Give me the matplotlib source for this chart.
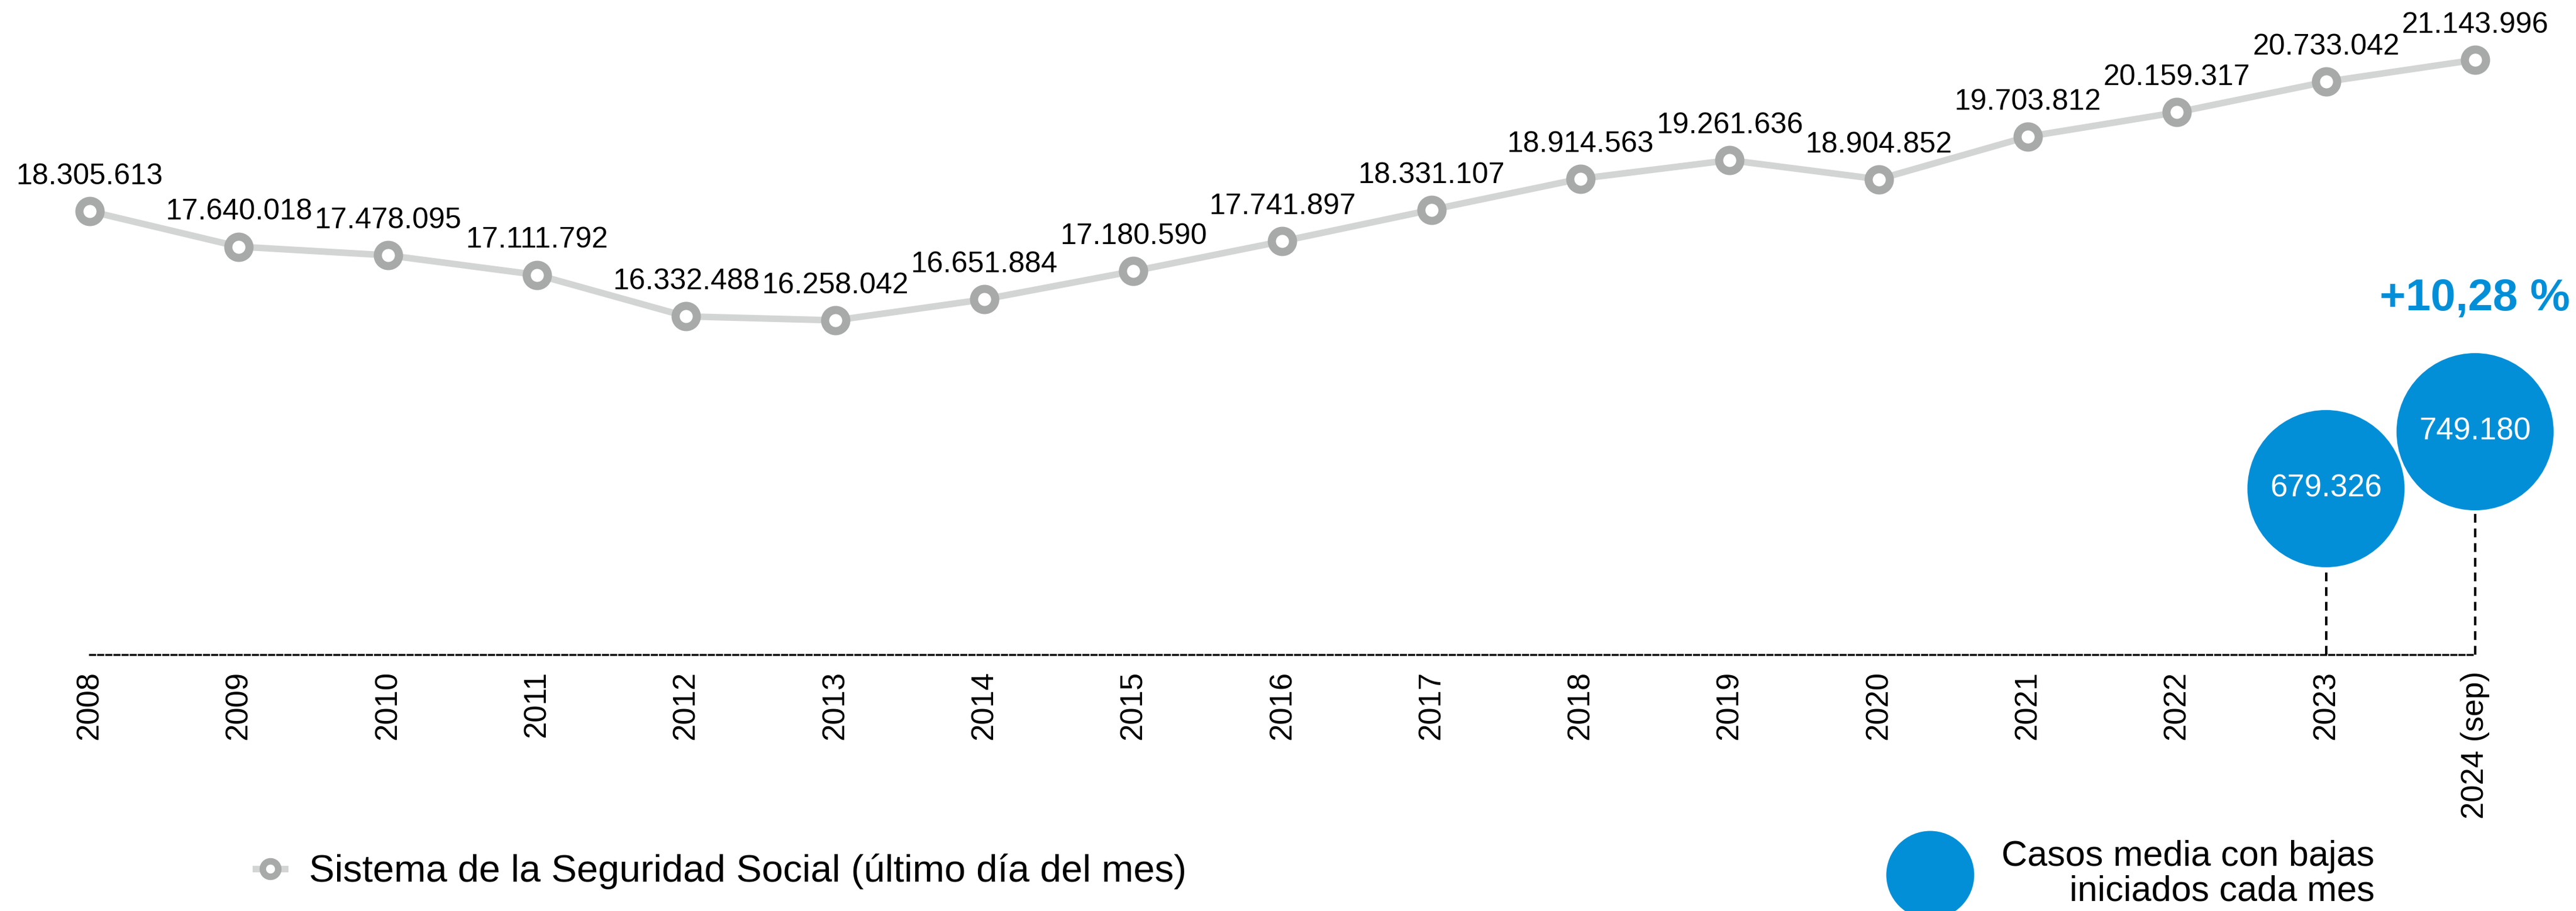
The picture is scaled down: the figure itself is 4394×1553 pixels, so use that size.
import numpy as np
import matplotlib
matplotlib.use('Agg')
import matplotlib.pyplot as plt
from matplotlib.lines import Line2D

plt.rcParams['font.family'] = ['Liberation Sans', 'DejaVu Sans']

# datos
anios = ['2008', '2009', '2010', '2011', '2012', '2013', '2014', '2015', '2016',
         '2017', '2018', '2019', '2020', '2021', '2022', '2023', '2024 (sep)']
afiliados = [18305613, 17640018, 17478095, 17111792, 16332488, 16258042, 16651884,
             17180590, 17741897, 18331107, 18914563, 19261636, 18904852, 19703812,
             20159317, 20733042, 21143996]
bajas_pos = [15, 16]  # 2023 y 2024 (sep)
bajas = [679326, 749180]
variacion = '+10,28 %'

gris_linea = '#d3d4d4'
gris_marca = '#a8a9a9'
azul = '#038fd8'


def fmt(v):
    return f'{v:,}'.replace(',', '.')


fig = plt.figure(figsize=(43.94, 15.53), dpi=100)
ax = fig.add_axes([0, 0.2814, 1, 0.7186])
x = np.arange(len(anios))

ax.plot(x, afiliados, color=gris_linea, lw=8, solid_capstyle='round', zorder=2)
ax.plot(x, afiliados, ls='', marker='o', ms=26, mfc='white', mec=gris_marca, mew=10, zorder=3)
for xi, v in zip(x, afiliados):
    ax.annotate(fmt(v), (xi, v), xytext=(0, 42.5), textcoords='offset points',
                ha='center', va='center', fontsize=36, color='black')

ax.set_xlim(-0.6017, 16.677)
ax.set_ylim(9.989e6, 22.266e6)
ax.set_yticks([])
ax.set_xticks(x, anios, rotation=90, fontsize=38)
ax.tick_params(axis='x', length=0, pad=20)
for s in ['top', 'left', 'right']:
    ax.spines[s].set_visible(False)
ax.spines['bottom'].set_linestyle((0, (2.5, 1.5)))
ax.spines['bottom'].set_linewidth(2.5)
ax.spines['bottom'].set_bounds(x[0], x[-1])
ax.patch.set_visible(False)

# burbujas: casos media con bajas
ax2 = ax.twinx()
ax2.set_ylim(475538, 1279174)
ax2.set_yticks([])
for s in ax2.spines.values():
    s.set_visible(False)
bx = x[bajas_pos]
ax2.vlines(bx, ax2.get_ylim()[0], bajas, colors='black', lw=3,
           linestyles=(0, (3.6, 2.4)), zorder=1)
ax2.scatter(bx, bajas, s=37249, color=azul, edgecolors='none', zorder=3)
for xi, v in zip(bx, bajas):
    ax2.text(xi, v, fmt(v), ha='center', va='center', fontsize=38, color='white', zorder=4)
ax2.annotate(variacion, (bx[-1], bajas[-1]), xytext=(0, 163), textcoords='offset points',
             ha='center', va='center', fontsize=55, fontweight='bold', color=azul)

# leyendas
h1 = Line2D([], [], color=gris_linea, lw=8, marker='o', ms=19, mfc='white',
            mec=gris_marca, mew=8)
leg1 = fig.legend([h1], ['Sistema de la Seguridad Social (último día del mes)'],
                  loc='center left', bbox_to_anchor=(436 / 4394, 67 / 1553),
                  frameon=False, fontsize=47, borderpad=0, borderaxespad=0,
                  handlelength=0.77, handletextpad=0.63)

h2 = Line2D([], [], ls='', marker='o', ms=108, color=azul, mec='none')
leg2 = fig.legend([h2], ['Casos media con bajas\niniciados cada mes'],
                  loc='center left', bbox_to_anchor=(3217 / 4394, 63 / 1553),
                  frameon=False, fontsize=44, borderpad=0, borderaxespad=0,
                  handlelength=2.46, handletextpad=0.77)
for t in leg2.get_texts():
    t.set_multialignment('right')
    t.set_linespacing(1.05)

fig.savefig('out.png', dpi=100)
